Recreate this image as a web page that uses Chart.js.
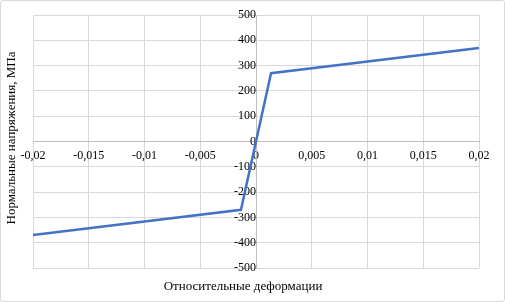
<!DOCTYPE html>
<html>
<head>
<meta charset="utf-8">
<script src="https://cdn.jsdelivr.net/npm/chart.js@4/dist/chart.umd.min.js"></script>
<style>
  html, body { margin: 0; padding: 0; background: #fff; }
  #wrap { position: relative; width: 505px; height: 302px; box-sizing: border-box; border: 1px solid #d9d9d9; border-radius: 3px; }
  canvas { display: block; }
</style>
</head>
<body>
<div id="wrap"><canvas id="c" width="503" height="300"></canvas></div>
<script>
// Data (strain, stress in MPa)
const strain = [-0.02, -0.00135, 0.00135, 0.02];
const stress = [-370, -270, 270, 370];
const xTitle = 'Относительные деформации';
const yTitle = 'Нормальные напряжения, МПа';
const xMin = -0.02, xMax = 0.02, xStep = 0.005;
const yMin = -500, yMax = 500, yStep = 100;

const fmt = v => {
  const r = Math.round(v * 100000) / 100000;
  return String(r).replace('.', ',');
};

const titlePlugin = {
  id: 'titles',
  afterDraw(chart) {
    const ctx = chart.ctx;
    ctx.save();
    ctx.fillStyle = '#000';
    ctx.font = '13px "Liberation Serif"';
    ctx.textAlign = 'center';
    ctx.textBaseline = 'middle';
    ctx.fillText(xTitle, 242, 286);
    ctx.translate(11, 137);
    ctx.rotate(-Math.PI / 2);
    ctx.fillText(yTitle, 0, 0);
    ctx.restore();
  }
};

new Chart(document.getElementById('c'), {
  type: 'scatter',
  data: {
    datasets: [{
      data: strain.map((x, i) => ({ x, y: stress[i] })),
      showLine: true,
      borderColor: '#4472C4',
      borderWidth: 2.5,
      pointRadius: 0,
      fill: false,
      tension: 0
    }]
  },
  options: {
    responsive: false,
    animation: false,
    layout: { padding: { left: 32, right: 25, top: 14, bottom: 33 } },
    plugins: { legend: { display: false }, tooltip: { enabled: false } },
    scales: {
      x: {
        type: 'linear',
        position: { y: 0 },
        min: xMin, max: xMax,
        ticks: { stepSize: xStep, callback: v => fmt(v), color: '#000', font: { family: 'Liberation Serif', size: 12 }, padding: 3, maxRotation: 0 },
        grid: { color: '#d9d9d9', lineWidth: 1, tickLength: 4 },
        border: { color: '#bfbfbf', width: 1 }
      },
      y: {
        type: 'linear',
        position: { x: 0 },
        min: yMin, max: yMax,
        ticks: { stepSize: yStep, callback: v => fmt(v), color: '#000', font: { family: 'Liberation Serif', size: 12 }, padding: 6 },
        grid: { color: '#d9d9d9', lineWidth: 1, tickLength: 4 },
        border: { color: '#bfbfbf', width: 1 }
      }
    }
  },
  plugins: [titlePlugin]
});
</script>
</body>
</html>
